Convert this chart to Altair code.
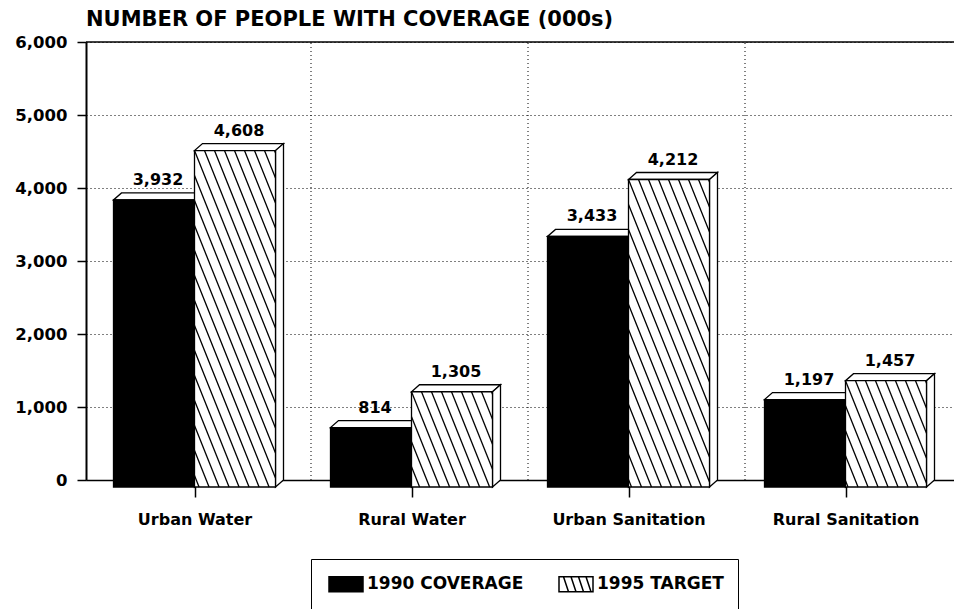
import math
import altair as alt
import pandas as pd

# ---------------- data ----------------
categories = ["Urban Water", "Rural Water", "Urban Sanitation", "Rural Sanitation"]
coverage_1990 = [3932, 814, 3433, 1197]
target_1995 = [4608, 1305, 4212, 1457]
series_names = ["1990 COVERAGE", "1995 TARGET"]
y_ticks = [0, 1000, 2000, 3000, 4000, 5000, 6000]
title_text = "NUMBER OF PEOPLE WITH COVERAGE (000s)"

# ---------------- style / layout constants ----------------
FONT = "DejaVu Sans"
W, H = 868, 438
X_DOMAIN = [-0.5, len(categories) - 0.5]
Y_DOMAIN = [y_ticks[0], y_ticks[-1]]
px_x = W / (X_DOMAIN[1] - X_DOMAIN[0])
px_y = H / (Y_DOMAIN[1] - Y_DOMAIN[0])
BAR_W = 81 / px_x          # bar width in x units
DX = 8 / px_x              # 3-D depth, x
DY = 7 / px_y              # 3-D depth, y
HATCH_SPACING = 10.0       # px
HATCH_SLOPE = 2.5          # dy/dx of hatch lines

# ---------------- derived tables ----------------
front_rows, face_rows, hatch_rows, label_rows = [], [], [], []
fid = 0
for i, cat in enumerate(categories):
    for s, vals in enumerate([coverage_1990, target_1995]):
        v = vals[i]
        a = i - BAR_W if s == 0 else i
        b = a + BAR_W
        y0, y1 = Y_DOMAIN[0] - DY, v - DY
        front_rows.append(dict(cat=cat, series=series_names[s], x=a, x2=b, y=y0, y2=y1))
        label_rows.append(dict(xc=(a + b) / 2 + DX / 2, v=v))
        # top face (parallelogram)
        for xx, lo, hi in [(a, y1, y1), (a + DX, y1, v), (b, y1, v), (b + DX, v, v)]:
            face_rows.append(dict(fid="f%d" % fid, fx=xx, fy=lo, fy2=hi))
        fid += 1
        # side face
        for xx, lo, hi in [(b, y0, y1), (b + DX, Y_DOMAIN[0], v)]:
            face_rows.append(dict(fid="f%d" % fid, fx=xx, fy=lo, fy2=hi))
        fid += 1
        if s == 1:
            wp = (b - a) * px_x
            hp = (y1 - y0) * px_y
            c = -math.ceil(hp / HATCH_SLOPE / HATCH_SPACING) * HATCH_SPACING
            while c < wp:
                ya = max(0.0, -c * HATCH_SLOPE)
                yb = min(hp, (wp - c) * HATCH_SLOPE)
                if yb > ya + 0.5:
                    xa = c + ya / HATCH_SLOPE
                    xb = c + yb / HATCH_SLOPE
                    hatch_rows.append(dict(hx=a + xa / px_x, hx2=a + xb / px_x,
                                           hy=y1 - ya / px_y, hy2=y1 - yb / px_y))
                c += HATCH_SPACING

df_front = pd.DataFrame(front_rows)
df_face = pd.DataFrame(face_rows)
df_hatch = pd.DataFrame(hatch_rows)
df_label = pd.DataFrame(label_rows)
df_vgrid = pd.DataFrame(dict(gx=[i + 0.5 + DX for i in range(len(categories) - 1)],
                             gy=Y_DOMAIN[0], gy2=Y_DOMAIN[1]))
df_top = pd.DataFrame(dict(tx=[X_DOMAIN[0]], tx2=[X_DOMAIN[1]], ty=[Y_DOMAIN[1]]))

# ---------------- scales & axes ----------------
xscale = alt.Scale(domain=X_DOMAIN, nice=False, zero=False)
yscale = alt.Scale(domain=Y_DOMAIN, nice=False, zero=False)
label_js = "[" + ",".join("'" + c + "'" for c in categories) + "][datum.value]"
xaxis = alt.Axis(values=list(range(len(categories))), labelExpr=label_js, title=None,
                 grid=False, tickSize=17, tickColor="black", tickWidth=1.5,
                 domainColor="black", domainWidth=1.5, labelFont=FONT, labelFontSize=16,
                 labelFontWeight="bold", labelColor="black", labelPadding=14, zindex=0)
yaxis = alt.Axis(values=y_ticks, format=",d", title=None, grid=True, gridColor="black",
                 gridDash=[1, 3], gridWidth=1, gridOpacity=1, tickSize=9, tickColor="black",
                 tickWidth=1.5, domainColor="black", domainWidth=2, labelFont=FONT,
                 labelFontSize=16.5, labelFontWeight="bold", labelColor="black",
                 labelPadding=10, zindex=0)


def X(f):
    return alt.X(f, type="quantitative", scale=xscale, axis=xaxis)


def Y(f):
    return alt.Y(f, type="quantitative", scale=yscale, axis=yaxis)


HATCH_PATH = ("M-0.7,-0.75H2.7V0.75H-0.7Z"
              "M-0.25,-0.75L0.25,0.75M0.5,-0.75L1,0.75"
              "M1.25,-0.75L1.75,0.75M2.0,-0.75L2.5,0.75")

vgrid = alt.Chart(df_vgrid).mark_rule(color="black", strokeDash=[1, 3], strokeWidth=1).encode(
    x=X("gx"), y=Y("gy"), y2="gy2")
topline = alt.Chart(df_top).mark_rule(color="black", strokeWidth=1.5).encode(
    x=X("tx"), x2="tx2", y=Y("ty"))
faces = alt.Chart(df_face).mark_area(fill="white", stroke="black", strokeWidth=1.3,
                                     interpolate="linear", orient="vertical").encode(
    x=X("fx"), y=alt.Y("fy", type="quantitative", scale=yscale, axis=yaxis, stack=None),
    y2="fy2", detail="fid:N")
fronts = alt.Chart(df_front).mark_rect(stroke="black", strokeWidth=1.3).encode(
    x=X("x"), x2="x2", y=Y("y"), y2="y2",
    fill=alt.Fill("series:N", scale=alt.Scale(domain=series_names, range=["black", "white"]),
                  legend=alt.Legend(title=None, orient="none", legendX=225, legendY=517,
                                    direction="horizontal", symbolType=HATCH_PATH,
                                    symbolSize=400, symbolStrokeColor="black",
                                    symbolStrokeWidth=1.5, symbolOpacity=1,
                                    labelFont=FONT, labelFontSize=17,
                                    labelFontWeight="bold", labelColor="black",
                                    labelOffset=20, columnPadding=31, padding=14,
                                    strokeColor="black", fillColor="white")))
hatch = alt.Chart(df_hatch).mark_rule(color="black", strokeWidth=1.3).encode(
    x=X("hx"), x2="hx2", y=Y("hy"), y2="hy2")
labels = alt.Chart(df_label).mark_text(font=FONT, fontSize=16, fontWeight="bold",
                                       color="black", baseline="alphabetic", dy=-8).encode(
    x=X("xc"), y=Y("v"), text=alt.Text("v:Q", format=","))

chart = alt.layer(vgrid, topline, faces, fronts, hatch, labels).properties(
    width=W, height=H,
    title=alt.TitleParams(title_text, anchor="start", frame="group", font=FONT,
                          fontSize=21, fontWeight="bold", color="black", offset=4),
    autosize=alt.AutoSizeParams(type="none"),
    padding={"left": 78, "top": 34, "right": 0, "bottom": 129},
    background="white",
).configure_view(stroke=None)

chart.save("out.html", embed_options={"renderer": "svg", "actions": False})
